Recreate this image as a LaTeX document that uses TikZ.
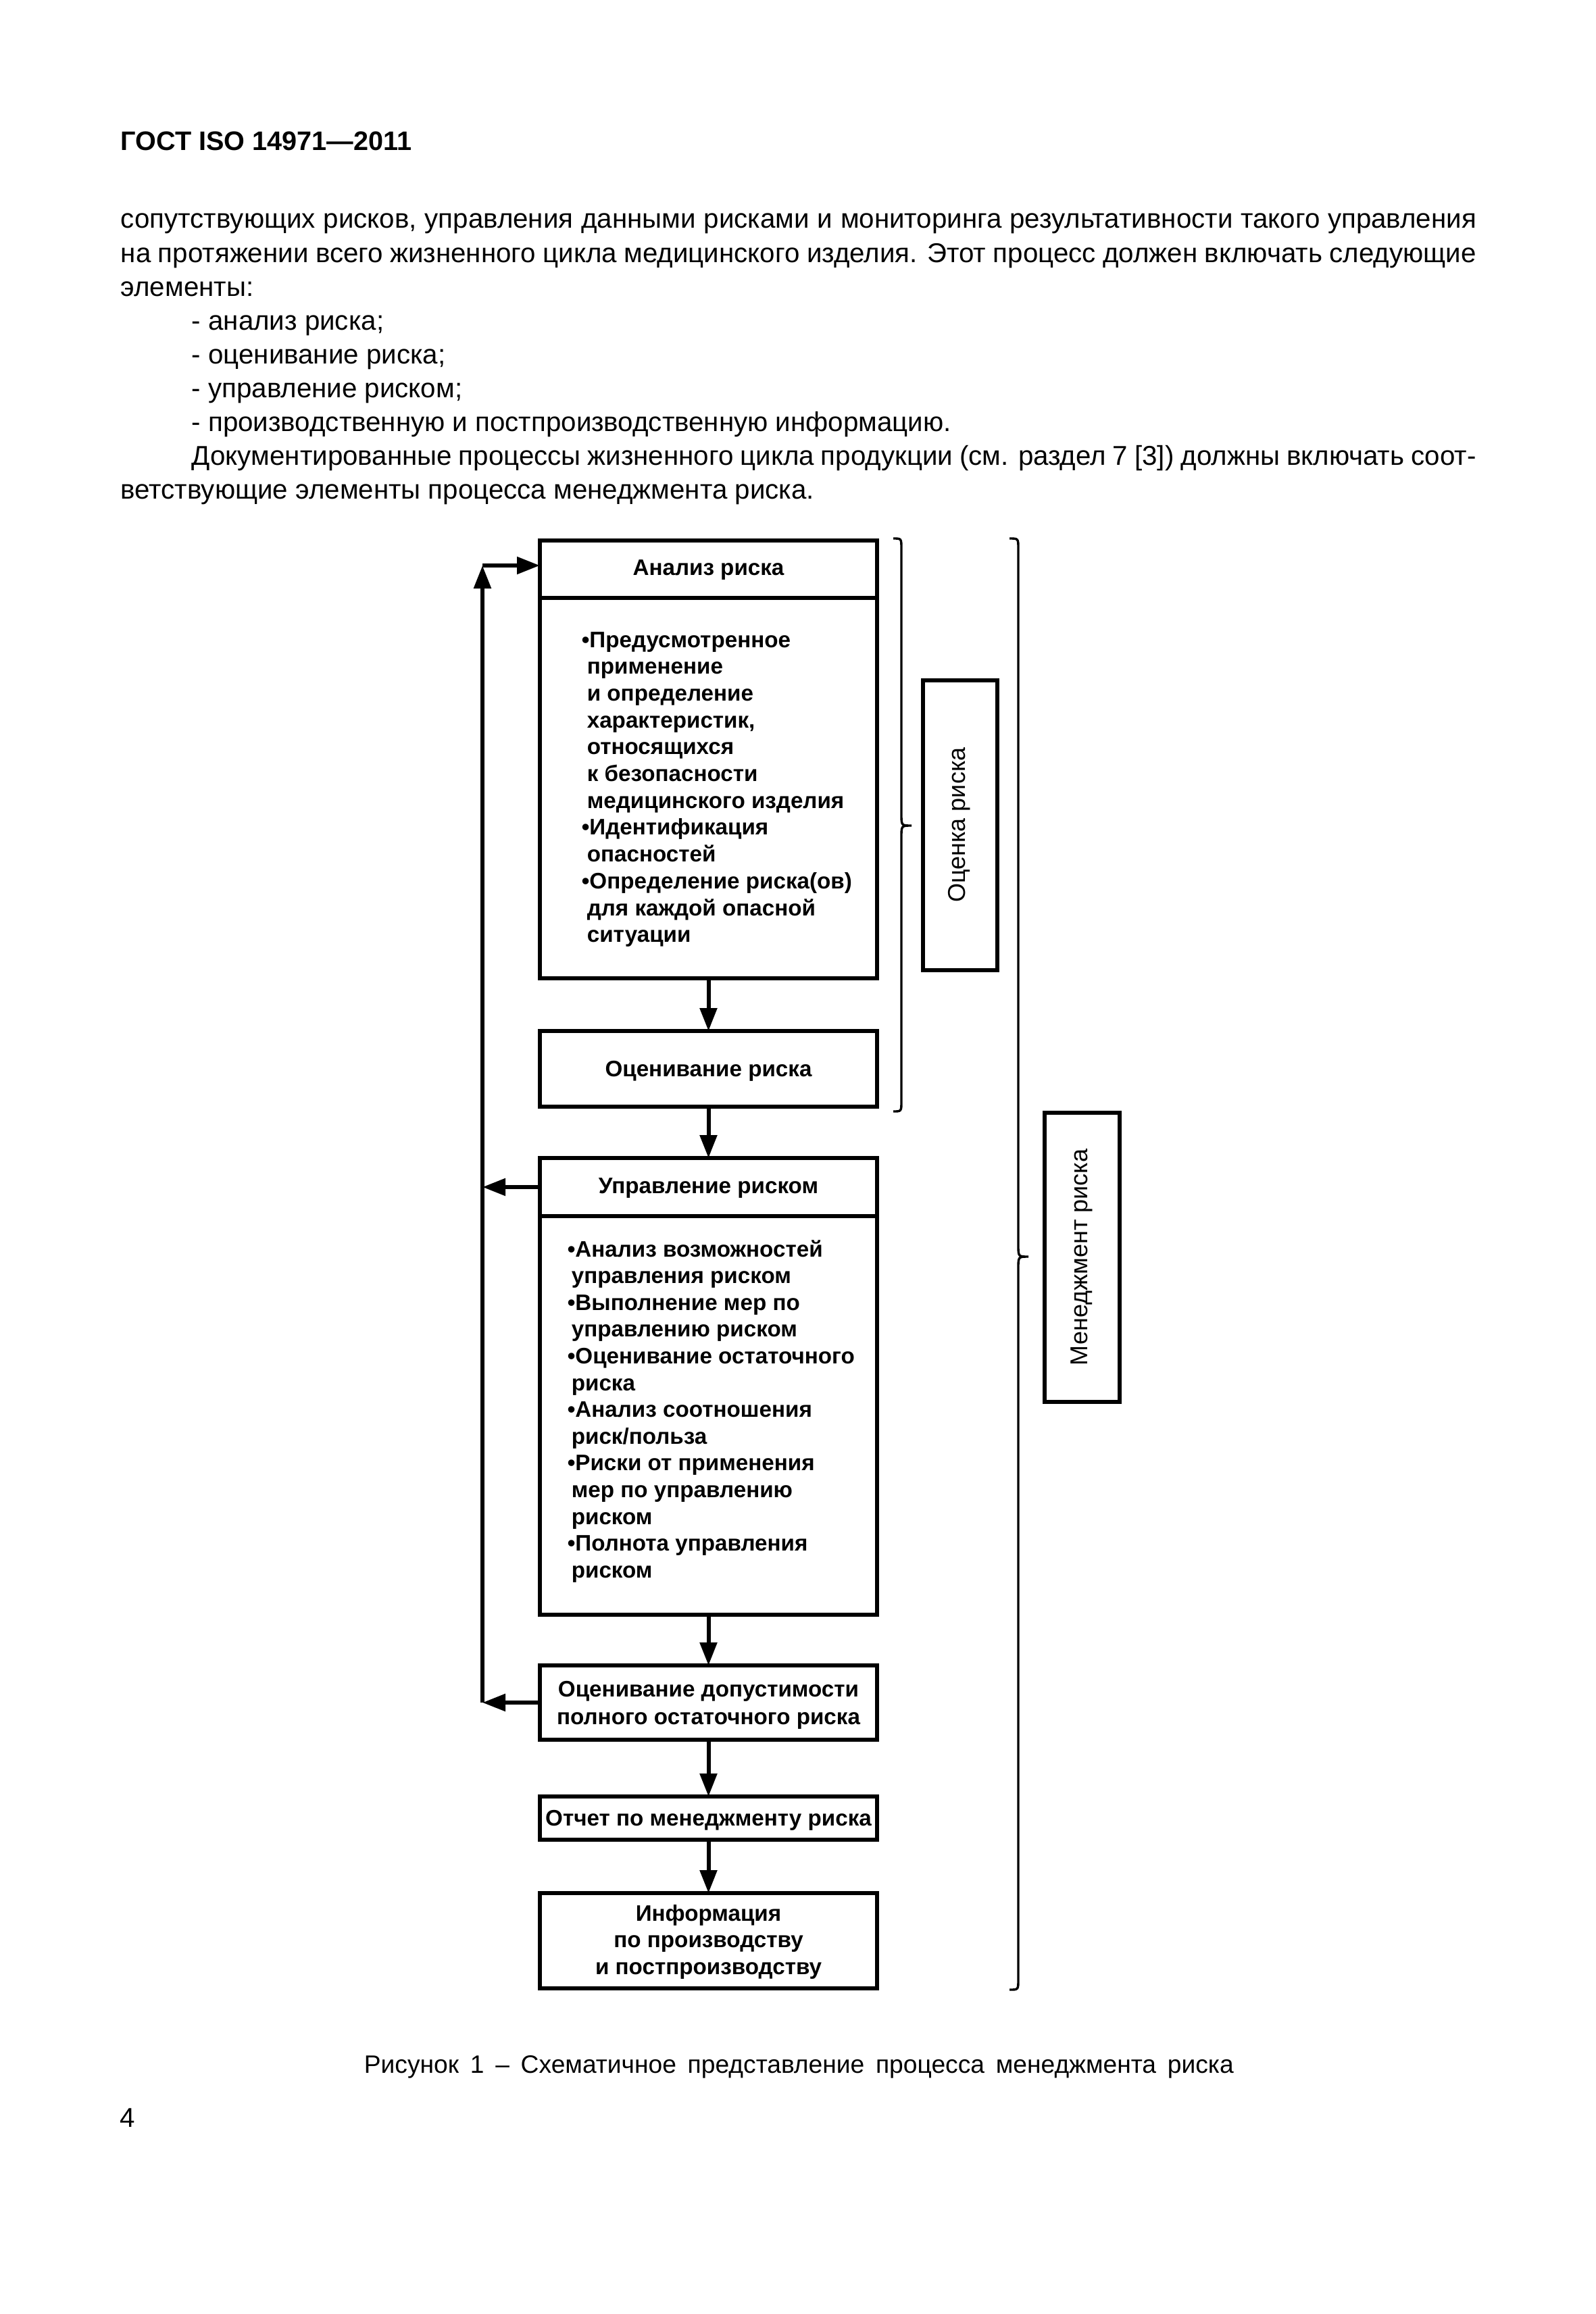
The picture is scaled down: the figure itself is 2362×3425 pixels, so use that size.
\documentclass[tikz,border=0pt]{standalone}
\usepackage{fontspec}
\setmainfont{Liberation Sans}
\usetikzlibrary{arrows.meta}
\newcommand\bxline[4]{\node[btxt] (#1) at (#2,#3) {#4};}
\begin{document}
\begin{tikzpicture}[x=0.25pt,y=-0.25pt,
  box/.style={draw, line width=1.5pt, inner sep=0pt, outer sep=0pt},
  sz/.style 2 args={minimum width=#1*0.25pt, minimum height=#2*0.25pt},
  arr/.style={line width=1.5pt, -{Triangle[length=8.5pt,width=6.2pt]}},
  brc/.style={line width=0.85pt},
  ptxt/.style={inner sep=0pt, anchor=base west, font=\fontsize{10.07}{12}\selectfont},
  btxt/.style={inner sep=0pt, anchor=base west, font=\fontsize{8.3}{10}\selectfont\bfseries},
  ttl/.style={inner sep=0pt, anchor=base, font=\fontsize{8.3}{10}\selectfont\bfseries},
  vtxt/.style={inner sep=0pt, rotate=90, font=\fontsize{9}{11}\selectfont},
]
\fill[white] (0,0) rectangle (2362,3425);
\useasboundingbox (0,0) rectangle (2362,3425);

% header and paragraph
\node[ptxt, font=\fontsize{9.9}{12}\selectfont\bfseries] (hdr) at (178,223) {ГОСТ ISO 14971—2011};
\node[ptxt] (p1) at (178,338) {\makebox[501.5pt][s]{сопутствующих рисков, управления данными рисками и мониторинга результативности такого управления}};
\node[ptxt] (p2) at (178,388) {\makebox[501.5pt][s]{на протяжении всего жизненного цикла медицинского изделия. Этот процесс должен включать следующие}};
\node[ptxt] (p3) at (178,438) {элементы:};
\node[ptxt] (p4) at (283,488) {- анализ риска;};
\node[ptxt] (p5) at (283,538) {- оценивание риска;};
\node[ptxt] (p6) at (283,588) {- управление риском;};
\node[ptxt] (p7) at (283,638) {- производственную и постпроизводственную информацию.};
\node[ptxt] (p8) at (283,688) {\makebox[475.25pt][s]{Документированные процессы жизненного цикла продукции (см. раздел 7 [3]) должны включать соот-}};
\node[ptxt] (p9) at (178,738) {ветствующие элементы процесса менеджмента риска.};

% boxes
\node[box, sz={499}{85}]  (a1) at (1048.5,842.5) {};
\node[box, sz={499}{563}] (a2) at (1048.5,1166.5) {};
\node[box, sz={499}{112}] (o)  at (1048.5,1582) {};
\node[box, sz={499}{86}]  (u1) at (1048.5,1757) {};
\node[box, sz={499}{590}] (u2) at (1048.5,2095) {};
\node[box, sz={499}{110}] (d)  at (1048.5,2520) {};
\node[box, sz={499}{64}]  (r)  at (1048.5,2691) {};
\node[box, sz={499}{141}] (inf) at (1048.5,2872.5) {};
\node[box, sz={110}{429}] (ok) at (1421,1221.5) {};
\node[box, sz={111}{428}] (mk) at (1601.5,1861) {};

% titles
\node[ttl] (ta1) at (1048.5,851) {Анализ риска};
\node[ttl] (to)  at (1048.5,1593) {Оценивание риска};
\node[ttl] (tu1) at (1048.5,1766) {Управление риском};
\node[ttl] (td1) at (1048.5,2511) {Оценивание допустимости};
\node[ttl] (td2) at (1048.5,2552) {полного остаточного риска};
\node[ttl] (tr)  at (1048.5,2702) {Отчет по менеджменту риска};
\node[ttl] (ti1) at (1048.5,2843) {Информация};
\node[ttl] (ti2) at (1048.5,2882) {по производству};
\node[ttl] (ti3) at (1048.5,2922) {и постпроизводству};
\node[vtxt] (tok) at (1420,1221) {Оценка риска};
\node[vtxt] (tmk) at (1601,1861) {Менеджмент риска};

% body of risk analysis
\bxline{b1}{860}{958}{•Предусмотренное}
\bxline{b2}{868}{997.7}{применение}
\bxline{b3}{868}{1037.4}{и определение}
\bxline{b4}{868}{1077.1}{характеристик,}
\bxline{b5}{868}{1116.8}{относящихся}
\bxline{b6}{868}{1156.5}{к безопасности}
\bxline{b7}{868}{1196.2}{медицинского изделия}
\bxline{b8}{860}{1235.9}{•Идентификация}
\bxline{b9}{868}{1275.6}{опасностей}
\bxline{b10}{860}{1315.3}{•Определение риска(ов)}
\bxline{b11}{868}{1355}{для каждой опасной}
\bxline{b12}{868}{1394.7}{ситуации}

% body of risk control
\bxline{c1}{839}{1860}{•Анализ возможностей}
\bxline{c2}{845}{1899.6}{управления риском}
\bxline{c3}{839}{1939.2}{•Выполнение мер по}
\bxline{c4}{845}{1978.8}{управлению риском}
\bxline{c5}{839}{2018.4}{•Оценивание остаточного}
\bxline{c6}{845}{2058}{риска}
\bxline{c7}{839}{2097.6}{•Анализ соотношения}
\bxline{c8}{845}{2137.2}{риск/польза}
\bxline{c9}{839}{2176.8}{•Риски от применения}
\bxline{c10}{845}{2216.4}{мер по управлению}
\bxline{c11}{845}{2256}{риском}
\bxline{c12}{839}{2295.6}{•Полнота управления}
\bxline{c13}{845}{2335.2}{риском}

% connectors
\draw[arr] (a2.south) -- (o.north);
\draw[arr] (o.south) -- (u1.north);
\draw[arr] (u2.south) -- (d.north);
\draw[arr] (d.south) -- (r.north);
\draw[arr] (r.south) -- (inf.north);
\coordinate (tl) at (714,837);
\coordinate (bl) at (714,2520);
\draw[arr] (u1.west) -- (u1.west -| bl);
\draw[arr] (d.west) -- (bl);
\draw[arr] (bl) -- (tl);
\draw[arr] (tl) -- (tl -| a1.west);

% braces
\draw[brc] (1322,797) .. controls (1334,797) .. (1334,812) -- (1334,1205)
  .. controls (1334,1222) .. (1349,1222) .. controls (1334,1222) .. (1334,1239)
  -- (1334,1630) .. controls (1334,1645) .. (1322,1645);
\draw[brc] (1494,797) .. controls (1507,797) .. (1507,812) -- (1507,1843)
  .. controls (1507,1860) .. (1522,1860) .. controls (1507,1860) .. (1507,1877)
  -- (1507,2930) .. controls (1507,2945) .. (1494,2945);

% caption and page number
\node[ptxt, font=\fontsize{9.3}{11}\selectfont] (cap) at (538,3068) {\makebox[321.75pt][s]{Рисунок 1 – Схематичное представление процесса менеджмента риска}};
\node[ptxt] (pg) at (177,3148) {4};
\end{tikzpicture}
\end{document}
